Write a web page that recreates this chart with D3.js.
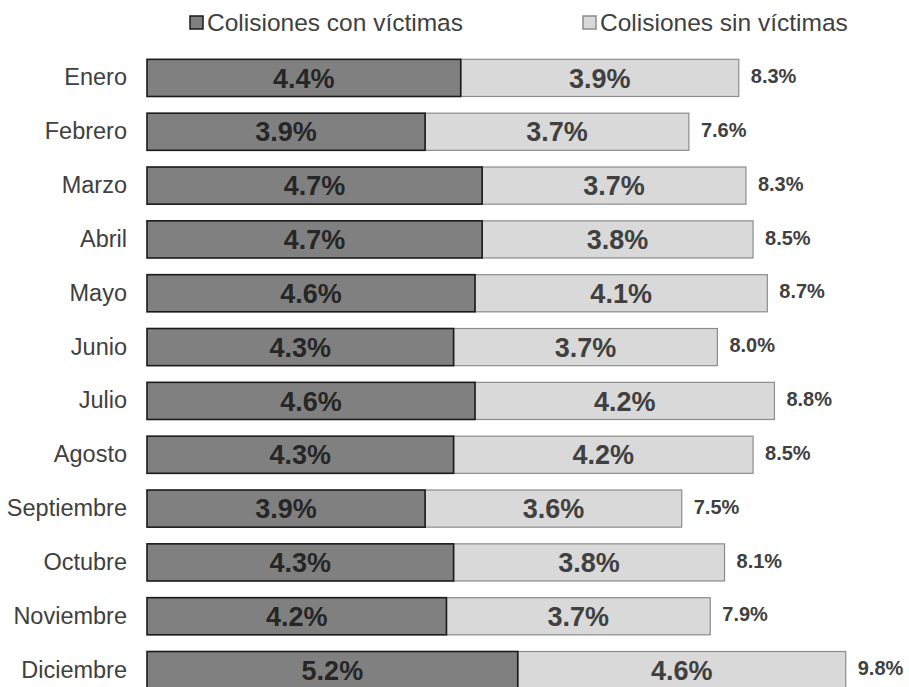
<!DOCTYPE html>
<html lang="es">
<head>
<meta charset="UTF-8">
<title>Colisiones por mes</title>
<script src="https://cdn.jsdelivr.net/npm/d3@7"></script>
<style>
body { margin: 0; background: #fff; }
svg text { font-family: "Liberation Sans", Arial, sans-serif; }
</style>
</head>
<body>
<svg width="909" height="687"></svg>
<script>
var meses = ['Enero', 'Febrero', 'Marzo', 'Abril', 'Mayo', 'Junio', 'Julio', 'Agosto',
    'Septiembre', 'Octubre', 'Noviembre', 'Diciembre'];
var conVictimas = [4.4, 3.9, 4.7, 4.7, 4.6, 4.3, 4.6, 4.3, 3.9, 4.3, 4.2, 5.2];
var sinVictimas = [3.9, 3.7, 3.7, 3.8, 4.1, 3.7, 4.2, 4.2, 3.6, 3.8, 3.7, 4.6];
var totales = [8.3, 7.6, 8.3, 8.5, 8.7, 8.0, 8.8, 8.5, 7.5, 8.1, 7.9, 9.8];
var series = ['Colisiones con víctimas', 'Colisiones sin víctimas'];

var svg = d3.select('svg');

var x = d3.scaleLinear().domain([0, 10]).range([147, 860]);
var y = d3.scaleBand().domain(meses).range([51, 697]).paddingInner(0.31).paddingOuter(0.155);

var fills = ['#808080', '#d9d9d9'];
var strokes = ['#1a1a1a', '#8c8c8c'];

var data = meses.map(function(m, i) {
    return { mes: m, a: conVictimas[i], b: sinVictimas[i], t: totales[i] };
});

var rows = svg.selectAll('g.row').data(data).enter().append('g').attr('class', 'row');

// segmento sin victimas
rows.append('rect')
    .attr('x', function(d) { return x(d.a); })
    .attr('y', function(d) { return y(d.mes); })
    .attr('width', function(d) { return x(d.a + d.b) - x(d.a); })
    .attr('height', y.bandwidth())
    .attr('fill', fills[1]).attr('stroke', strokes[1]).attr('stroke-width', 1.2);

// segmento con victimas
rows.append('rect')
    .attr('x', x(0))
    .attr('y', function(d) { return y(d.mes); })
    .attr('width', function(d) { return x(d.a) - x(0); })
    .attr('height', y.bandwidth())
    .attr('fill', fills[0]).attr('stroke', strokes[0]).attr('stroke-width', 1.6);

rows.append('text')
    .attr('x', function(d) { return (x(0) + x(d.a)) / 2; })
    .attr('y', function(d) { return y(d.mes) + y.bandwidth() / 2; })
    .attr('dy', '0.36em').attr('text-anchor', 'middle')
    .attr('font-size', 27).attr('font-weight', 'bold').attr('fill', '#262626')
    .text(function(d) { return d.a.toFixed(1) + '%'; });

rows.append('text')
    .attr('x', function(d) { return (x(d.a) + x(d.a + d.b)) / 2; })
    .attr('y', function(d) { return y(d.mes) + y.bandwidth() / 2; })
    .attr('dy', '0.36em').attr('text-anchor', 'middle')
    .attr('font-size', 27).attr('font-weight', 'bold').attr('fill', '#404040')
    .text(function(d) { return d.b.toFixed(1) + '%'; });

rows.append('text')
    .attr('x', function(d) { return x(d.a + d.b) + 12; })
    .attr('y', function(d) { return y(d.mes) + y.bandwidth() / 2 - 2; })
    .attr('dy', '0.36em')
    .attr('font-size', 20).attr('font-weight', 'bold').attr('fill', '#404040')
    .text(function(d) { return d.t.toFixed(1) + '%'; });

// eje de meses
var axis = svg.append('g').attr('transform', 'translate(' + x(0) + ',0)')
    .call(d3.axisLeft(y).tickSize(0).tickPadding(20));
axis.select('.domain').remove();
axis.selectAll('text').attr('font-size', 23.5).attr('fill', '#404040')
    .attr('font-family', '"Liberation Sans", Arial, sans-serif');

// leyenda
var legX = [190, 583];
var leg = svg.selectAll('g.leg').data(series).enter().append('g').attr('class', 'leg')
    .attr('transform', function(d, i) { return 'translate(' + legX[i] + ',16)'; });
leg.append('rect').attr('width', 13).attr('height', 13)
    .attr('fill', function(d, i) { return fills[i]; })
    .attr('stroke', function(d, i) { return strokes[i]; }).attr('stroke-width', 1.5);
leg.append('text').attr('x', 17).attr('y', 6.5).attr('dy', '0.36em')
    .attr('font-size', 24.5).attr('fill', '#404040')
    .text(function(d) { return d; });
</script>
</body>
</html>
